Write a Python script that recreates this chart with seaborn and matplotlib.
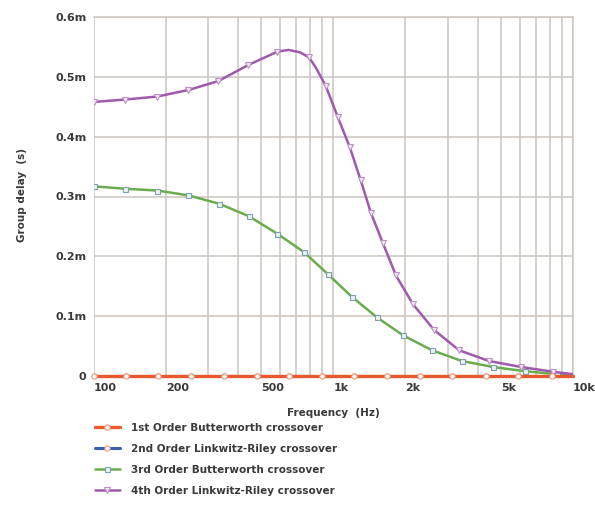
import matplotlib
matplotlib.use("Agg")
import matplotlib.pyplot as plt
import seaborn as sns
from matplotlib.ticker import FixedLocator, NullFormatter

# Frequencies (Hz) and group delay (milliseconds)
red_freq = [100, 137, 186, 255, 350, 481, 654, 898, 1221, 1676, 2300, 3128, 4338, 5897, 8174, 10000]
red_ms = [0, 0, 0, 0, 0, 0, 0, 0, 0, 0, 0, 0, 0, 0, 0, 0]

blue_freq = [100, 137, 186, 255, 350, 481, 654, 898, 1221, 1676, 2300, 3128, 4338, 5897, 8174, 10000]
blue_ms = [0, 0, 0, 0, 0, 0, 0, 0, 0, 0, 0, 0, 0, 0, 0, 0]

green_freq = [100, 135, 184, 248, 334, 445, 583, 755, 951, 1198, 1522, 1954, 2582, 3444, 4640, 6310, 8580, 10000]
green_ms = [0.317, 0.313, 0.310, 0.302, 0.288, 0.267, 0.238, 0.207, 0.170, 0.132, 0.098,
            0.068, 0.043, 0.025, 0.015, 0.008, 0.003, 0.002]

purple_freq = [100, 135, 184, 249, 332, 443, 585, 650, 726, 789, 816, 847, 930, 1044, 1173, 1302,
               1435, 1611, 1826, 2150, 2633, 3350, 4470, 6090, 8290, 10000]
purple_ms = [0.458, 0.462, 0.467, 0.478, 0.493, 0.520, 0.542, 0.545, 0.541, 0.533, 0.525, 0.515,
             0.485, 0.433, 0.382, 0.327, 0.273, 0.222, 0.168, 0.120, 0.077, 0.043, 0.025, 0.015,
             0.007, 0.003]

series_labels = ["1st Order Butterworth crossover",
                 "2nd Order Linkwitz-Riley crossover",
                 "3rd Order Butterworth crossover",
                 "4th Order Linkwitz-Riley crossover"]

x_ticks = [100, 200, 500, 1000, 2000, 5000, 10000]
x_tick_labels = ["100", "200", "500", "1k", "2k", "5k", "10k"]
x_grid_minor = [300, 400, 600, 700, 800, 900, 3000, 4000, 6000, 7000, 8000, 9000]
y_ticks = [0, 0.1, 0.2, 0.3, 0.4, 0.5, 0.6]
y_tick_labels = ["0", "0.1m", "0.2m", "0.3m", "0.4m", "0.5m", "0.6m"]

sns.set_theme(style="white")
plt.rcParams["font.family"] = ["DejaVu Sans"]
plt.rcParams["font.weight"] = "bold"

text_color = "#3a3a3a"
grid_color = "#cdc5c0"

fig = plt.figure(figsize=(5.95, 5.07), dpi=100)
ax = fig.add_axes([93.5 / 595, 1 - 376 / 507, (573 - 93.5) / 595, (376 - 17) / 507])

red = "#e85a2e"
blue = "#3b5fae"
green = "#6aad4c"
purple = "#a05aad"

def marks_except(n, skip):
    return [i for i in range(n) if i not in skip]

sns.lineplot(x=green_freq, y=green_ms, ax=ax, color=green, lw=1.8, estimator=None, sort=False,
             marker="s", markersize=3.6, markerfacecolor="#e9f1f2", markeredgecolor="#7d9fb0",
             markeredgewidth=0.8, markevery=marks_except(len(green_freq), {len(green_freq) - 1}),
             label=series_labels[2], zorder=3)
sns.lineplot(x=purple_freq, y=purple_ms, ax=ax, color=purple, lw=1.8, estimator=None, sort=False,
             marker="v", markersize=4.3, markerfacecolor="#f2e8f3", markeredgecolor="#bb92c4",
             markeredgewidth=0.8,
             markevery=marks_except(len(purple_freq), {7, 8, 10, 11, len(purple_freq) - 1}),
             label=series_labels[3], zorder=3)
sns.lineplot(x=blue_freq, y=blue_ms, ax=ax, color=blue, lw=2.2, estimator=None, sort=False,
             marker="o", markersize=3.8, markerfacecolor="white", markeredgecolor="#e89a80",
             markeredgewidth=0.8, markevery=marks_except(len(blue_freq), {len(blue_freq) - 1}),
             label=series_labels[1], zorder=4)
sns.lineplot(x=red_freq, y=red_ms, ax=ax, color=red, lw=2.4, estimator=None, sort=False,
             marker="o", markersize=3.8, markerfacecolor="white", markeredgecolor="#ec9a80",
             markeredgewidth=0.8, markevery=marks_except(len(red_freq), {len(red_freq) - 1}),
             label=series_labels[0], zorder=5, clip_on=False)

ax.set_xscale("log")
ax.set_xlim(100, 10000)
ax.set_ylim(0, 0.6)

ax.xaxis.set_major_locator(FixedLocator(x_ticks))
ax.set_xticklabels(x_tick_labels)
ax.xaxis.set_minor_locator(FixedLocator(x_grid_minor))
ax.xaxis.set_minor_formatter(NullFormatter())
ax.set_yticks(y_ticks)
ax.set_yticklabels(y_tick_labels)

ax.grid(True, which="both", axis="x", color=grid_color, lw=1.1)
ax.grid(True, which="major", axis="y", color=grid_color, lw=1.1)
ax.set_axisbelow(True)
ax.tick_params(axis="both", which="both", length=0, labelsize=8, labelcolor=text_color)
ax.tick_params(axis="x", pad=5)
ax.tick_params(axis="y", pad=5)
for lbl in ax.get_xticklabels():
    lbl.set_horizontalalignment("left")
    lbl.set_fontweight("bold")
for lbl in ax.get_yticklabels():
    lbl.set_fontweight("bold")

for side in ["left", "bottom"]:
    ax.spines[side].set_visible(False)
for side in ["top", "right"]:
    ax.spines[side].set_color(grid_color)
    ax.spines[side].set_linewidth(1.1)

ax.set_xlabel("")
ax.set_ylabel("")
fig.text(333 / 595, 1 - 413 / 507, "Frequency  (Hz)", ha="center", va="center",
         fontsize=7.5, fontweight="bold", color=text_color)
fig.text(22 / 595, 1 - 195 / 507, "Group delay  (s)", ha="center", va="center",
         rotation=90, fontsize=7.5, fontweight="bold", color=text_color)

handles, labels = ax.get_legend_handles_labels()
order = [labels.index(s) for s in series_labels]
ax.legend([handles[i] for i in order], [labels[i] for i in order],
          loc="upper left", bbox_to_anchor=(95 / 595, 1 - 423 / 507),
          bbox_transform=fig.transFigure, frameon=False, fontsize=7.5,
          handlelength=2.4, handletextpad=1.1, labelspacing=1.05,
          borderpad=0, borderaxespad=0, labelcolor=text_color, numpoints=1)

fig.savefig("out.png", dpi=100, facecolor="white")
